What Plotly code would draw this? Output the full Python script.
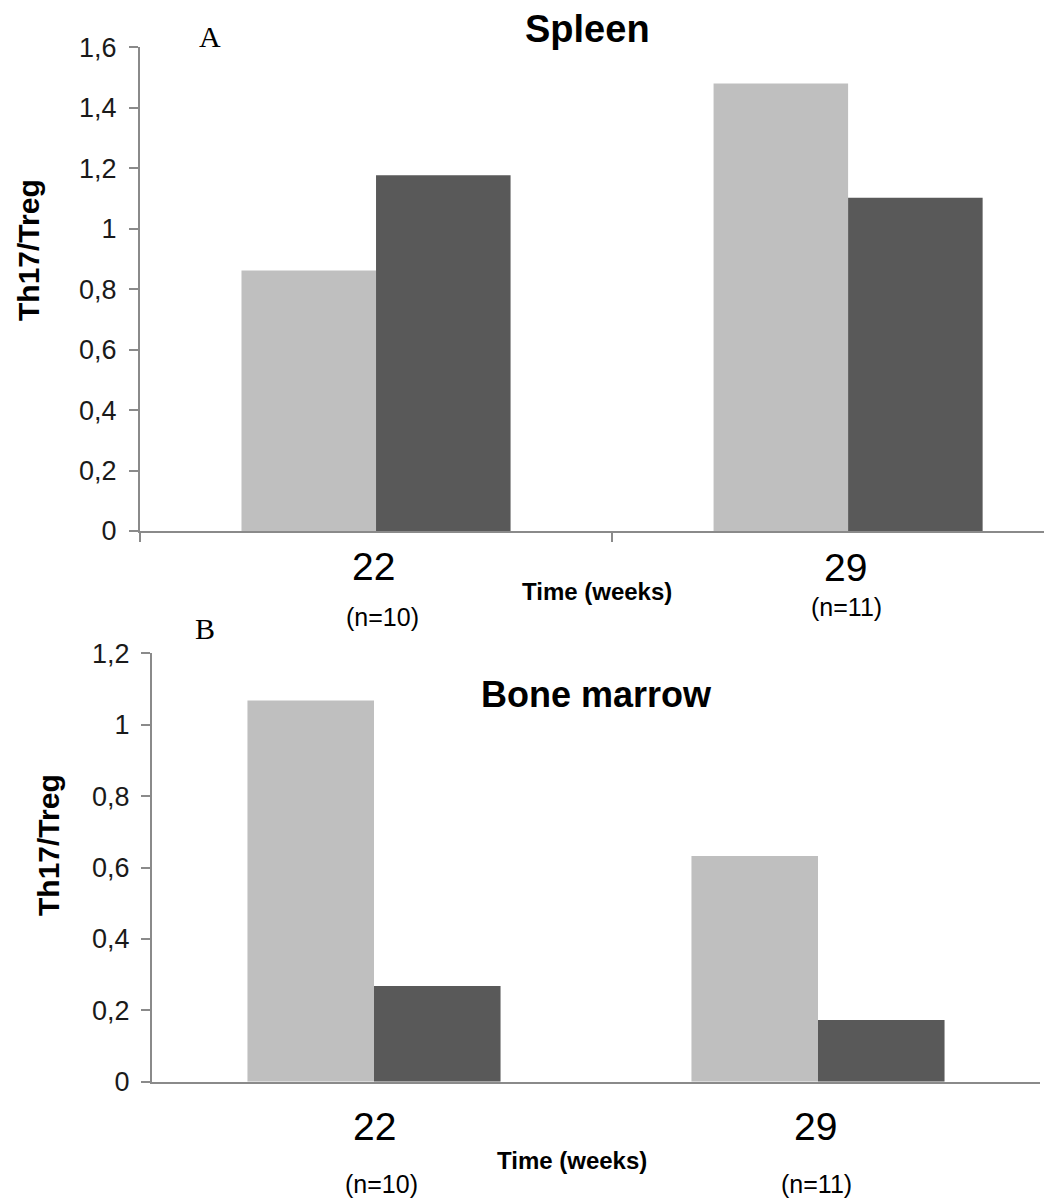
import plotly.graph_objects as go

W, H = 1044, 1198

# ---- data ----
categories = ["22", "29"]
n_labels = ["(n=10)", "(n=11)"]
spleen_light = [0.862, 1.48]
spleen_dark = [1.177, 1.102]
marrow_light = [1.068, 0.632]
marrow_dark = [0.268, 0.173]
spleen_ticks = [0, 0.2, 0.4, 0.6, 0.8, 1.0, 1.2, 1.4, 1.6]
spleen_ticktext = ["0", "0,2", "0,4", "0,6", "0,8", "1", "1,2", "1,4", "1,6"]
marrow_ticks = [0, 0.2, 0.4, 0.6, 0.8, 1.0, 1.2]
marrow_ticktext = ["0", "0,2", "0,4", "0,6", "0,8", "1", "1,2"]

LIGHT = "#bfbfbf"
DARK = "#595959"
AXIS = "#8a8a8a"
SANS = "Liberation Sans, Arial, sans-serif"
SERIF = "Liberation Serif, Times New Roman, serif"


def px(x):
    return x / W


def py(y):
    return 1 - y / H


fig = go.Figure()
fig.add_trace(go.Bar(x=categories, y=spleen_light, marker=dict(color=LIGHT, line=dict(width=0)),
                     xaxis="x", yaxis="y", showlegend=False))
fig.add_trace(go.Bar(x=categories, y=spleen_dark, marker=dict(color=DARK, line=dict(width=0)),
                     xaxis="x", yaxis="y", showlegend=False))
fig.add_trace(go.Bar(x=categories, y=marrow_light, marker=dict(color=LIGHT, line=dict(width=0)),
                     xaxis="x2", yaxis="y2", showlegend=False))
fig.add_trace(go.Bar(x=categories, y=marrow_dark, marker=dict(color=DARK, line=dict(width=0)),
                     xaxis="x2", yaxis="y2", showlegend=False))

tickfont = dict(family=SANS, size=27, color="#1a1a1a")

fig.update_layout(
    width=W, height=H,
    margin=dict(l=0, r=0, t=0, b=0, autoexpand=False),
    paper_bgcolor="white", plot_bgcolor="white",
    barmode="group", bargap=0.43, bargroupgap=0,
    xaxis=dict(domain=[px(140), 1.0], anchor="y", type="category", range=[-0.5, 1.415],
               automargin=False,
               showline=True, linecolor=AXIS, linewidth=2, showgrid=False, zeroline=False,
               showticklabels=False, ticks="outside", tickson="boundaries", ticklen=9,
               tickcolor=AXIS, tickwidth=2),
    yaxis=dict(domain=[py(531), py(47.3)], anchor="x", range=[0, 1.6], automargin=False,
               tickvals=spleen_ticks, ticktext=spleen_ticktext, tickfont=tickfont,
               showline=True, linecolor=AXIS, linewidth=2, showgrid=False, zeroline=False,
               ticks="outside", ticklen=9, tickcolor=AXIS, tickwidth=2, ticklabelstandoff=7),
    xaxis2=dict(domain=[px(152), px(1040)], anchor="y2", type="category", range=[-0.5, 1.5],
                automargin=False,
                showline=True, linecolor=AXIS, linewidth=2, showgrid=False, zeroline=False,
                showticklabels=False, ticks=""),
    yaxis2=dict(domain=[py(1081.7), py(653.3)], anchor="x2", range=[0, 1.2], automargin=False,
                tickvals=marrow_ticks, ticktext=marrow_ticktext, tickfont=tickfont,
                showline=True, linecolor=AXIS, linewidth=2, showgrid=False, zeroline=False,
                ticks="outside", ticklen=9, tickcolor=AXIS, tickwidth=2, ticklabelstandoff=6),
)

ann = []


def text(x, y, s, size, bold=False, family=SANS, angle=0, xref="paper", xshift=0):
    ann.append(dict(x=x, y=py(y), xref=xref, yref="paper", text=("<b>%s</b>" % s) if bold else s,
                    showarrow=False, xanchor="center", yanchor="middle", textangle=angle,
                    xshift=xshift, font=dict(family=family, size=size, color="#000000")))


# Panel A (category positions given by index on the category axis)
text(px(587), 29, "Spleen", 38, bold=True)
text(px(210), 37, "A", 30, family=SERIF)
text(px(28), 250, "Th17/Treg", 30, bold=True, angle=-90)
text(0, 566, categories[0], 39, xref="x", xshift=-3)
text(1, 567, categories[1], 39, xref="x", xshift=-3)
text(0, 617, n_labels[0], 25, xref="x", xshift=6)
text(1, 607, n_labels[1], 25, xref="x", xshift=-2)
text(px(597), 591, "Time (weeks)", 24, bold=True)

# Panel B
text(px(205), 628, "B", 30, family=SERIF)
text(px(596), 694, "Bone marrow", 36, bold=True)
text(px(48), 845, "Th17/Treg", 30, bold=True, angle=-90)
text(0, 1126, categories[0], 39, xref="x2")
text(1, 1126, categories[1], 39, xref="x2", xshift=-3)
text(0, 1184, n_labels[0], 25, xref="x2", xshift=7)
text(1, 1184, n_labels[1], 25, xref="x2", xshift=-2)
text(px(572), 1160, "Time (weeks)", 24, bold=True)

fig.update_layout(annotations=ann)

fig.write_html("out.html")
